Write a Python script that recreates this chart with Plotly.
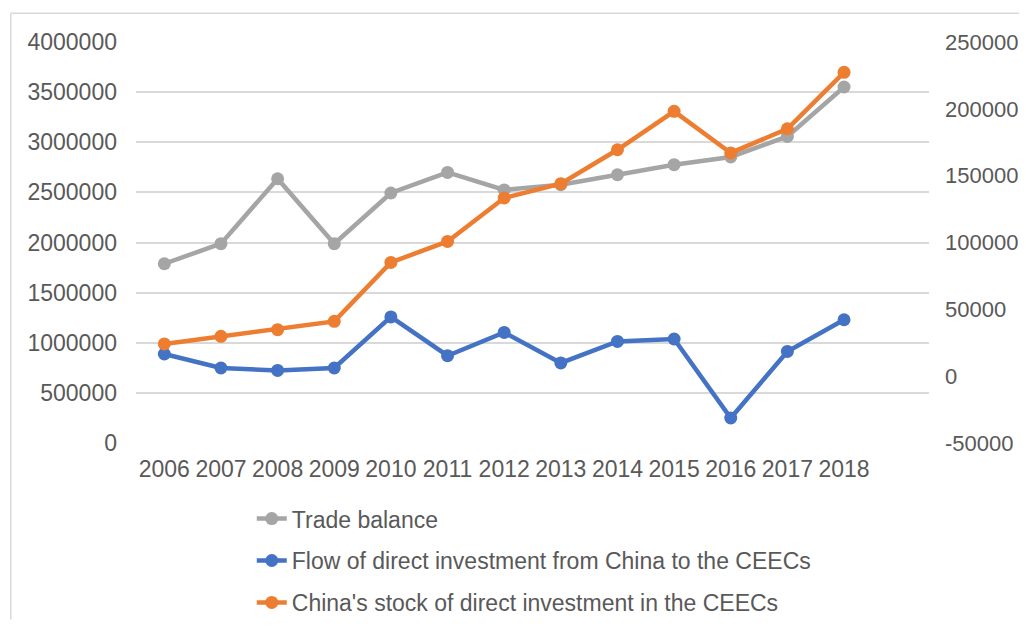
import plotly.graph_objects as go

years = ["2006", "2007", "2008", "2009", "2010", "2011", "2012",
         "2013", "2014", "2015", "2016", "2017", "2018"]

trade_balance = [1788000, 1988000, 2636000, 1988000, 2494000, 2699000, 2524000,
                 2577000, 2676000, 2776000, 2853000, 3058000, 3551000]
fdi_flow = [16600, 6100, 4300, 6100, 44300, 15300, 32700,
            9900, 26000, 27800, -31300, 18500, 42200]
fdi_stock = [24100, 29800, 34800, 41000, 85100, 100800, 133300,
             144000, 169400, 198100, 167000, 185100, 227300]

right_ticks = [-50000, 0, 50000, 100000, 150000, 200000, 250000]

GRAY = "#A5A5A5"
BLUE = "#4472C4"
ORANGE = "#ED7D31"
TEXT = "#595959"
GRID = "#D9D9D9"
FONT = "Liberation Sans"

fig = go.Figure()
fig.add_trace(go.Scatter(
    x=years, y=trade_balance, name="Trade balance", mode="lines+markers",
    line=dict(color=GRAY, width=4.5), marker=dict(color=GRAY, size=13),
    legendgroup="a", yaxis="y",
))
fig.add_trace(go.Scatter(
    x=years, y=fdi_flow, name="Flow of direct investment from China to the CEECs",
    mode="lines+markers", line=dict(color=BLUE, width=4.5),
    marker=dict(color=BLUE, size=13), legendgroup="b", yaxis="y2",
))
fig.add_trace(go.Scatter(
    x=years, y=fdi_stock, name="China's stock of direct investment in the CEECs",
    mode="lines+markers", line=dict(color=ORANGE, width=4.5),
    marker=dict(color=ORANGE, size=13), legendgroup="c", yaxis="y2",
))

# the page body adds an 8px offset, so the figure is sized to fit the window
fig.update_layout(
    width=1019, height=618,
    margin=dict(l=128, r=98, t=34, b=183, autoexpand=False),
    paper_bgcolor="white", plot_bgcolor="white",
    font=dict(family=FONT, size=23, color=TEXT),
    xaxis=dict(type="category", range=[-0.5, 13.5], showgrid=False,
               zeroline=False, showline=False, ticks="", ticklabelstandoff=10,
               automargin=False),
    yaxis=dict(range=[0, 4000000], dtick=500000, showgrid=True, gridcolor=GRID,
               gridwidth=1.5, zeroline=False, showline=False, ticks="",
               tickformat="d", ticklabelstandoff=18, automargin=False),
    yaxis2=dict(range=[-50000, 250000], overlaying="y", side="right",
                tickvals=right_ticks, ticktext=[str(v) for v in right_ticks],
                tickfont=dict(size=22),
                showgrid=False, zeroline=False, showline=False, ticks="",
                ticklabelstandoff=15, automargin=False),
    legend=dict(x=0.146, y=-0.135, xanchor="left", yanchor="top",
                traceorder="grouped", tracegroupgap=9,
                font=dict(family=FONT, size=23, color=TEXT),
                bgcolor="rgba(0,0,0,0)"),
    showlegend=True,
    shapes=[
        dict(type="line", xref="paper", yref="paper",
             x0=-0.158, x1=1.2, y0=1.072, y1=1.072,
             line=dict(color=GRID, width=1.5)),
        dict(type="line", xref="paper", yref="paper",
             x0=-0.158, x1=-0.158, y0=1.072, y1=-0.44,
             line=dict(color=GRID, width=1.5)),
    ],
)

fig.write_html("out.html")
